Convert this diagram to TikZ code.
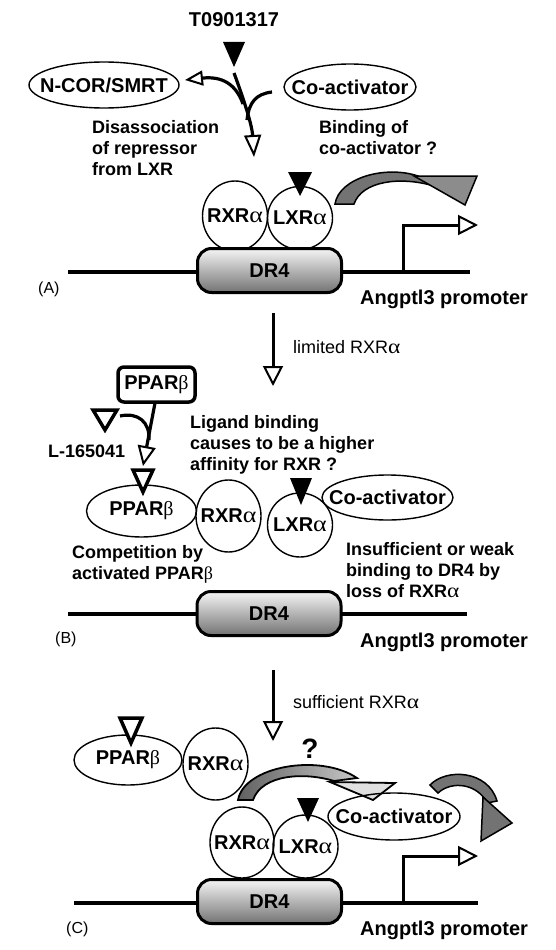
\documentclass[tikz,border=0pt]{standalone}
\usepackage{fontspec}
\usepackage{graphicx}
\setmainfont{Liberation Sans}
\newfontfamily\gkfont{Liberation Serif}
\usetikzlibrary{arrows.meta,shapes.geometric,shadings}
\newcommand\alp{{\gkfont\mdseries\scalebox{1.3}[1.12]{α}}}
\newcommand\bet{{\gkfont\mdseries β}}
\tikzset{
  lbl/.style={font=\fontsize{20}{22}\selectfont\bfseries},
  bead/.style={ellipse, draw, line width=1.4pt, inner sep=0pt, outer sep=0pt, lbl,
    execute at begin node={\hbox to 0pt\bgroup\hss}, execute at end node={\hss\egroup}},
  desc/.style={font=\fontsize{18}{21}\selectfont\bfseries, align=left, anchor=base west, inner sep=0pt},
  plainlbl/.style={font=\fontsize{18}{21}\selectfont, anchor=base west, inner sep=0pt},
  panel/.style={font=\fontsize{16}{18}\selectfont, anchor=base west, inner sep=0pt},
  prom/.style={font=\fontsize{20}{22}\selectfont\bfseries, anchor=base west, inner sep=0pt},
  drbox/.style={rectangle, rounded corners=14pt, draw, line width=3pt, minimum width=144pt, minimum height=44pt, top color=black!4, bottom color=black!55, lbl},
  dna/.style={line width=3.5pt},
  openlig/.style={draw, line width=3.5pt, line join=miter, fill=white},
  ribbon/.style={draw, line width=1.5pt, fill=black!55},
  thickarr/.style={line width=3.2pt},
  opentip/.style={-{Triangle[open, length=20pt, width=20pt, line width=2pt]}},
}
\begin{document}
\begin{tikzpicture}[x=1pt,y=-1pt]
\useasboundingbox (0,0) rectangle (556,950);
\fill[white] (0,0) rectangle (556,950);

% ================= Panel A =================
\node[font=\fontsize{20}{22}\selectfont\bfseries] (t09) at (234,20) {T0901317};
\fill (223,42) -- (245,42) -- (234,67) -- cycle;
\node[bead, minimum width=150pt, minimum height=46pt] (ncor) at (104,85) {N-COR/SMRT};
\node[bead, minimum width=132pt, minimum height=46pt] (coA) at (350,87) {Co-activator};
\coordinate (ligA) at (234,73);
\coordinate (tgtA) at (254,157);
\coordinate (splitA) at (243,104);
\coordinate (ncortip) at (185,80);
\coordinate (coAstart) at (272,92);
\draw[thickarr, -{Triangle[open,length=22pt,width=17pt,line width=2pt]}] (ligA) .. controls (244,100) and (252,125) .. (tgtA);
\draw[thickarr, -{Triangle[open,length=18pt,width=15pt,line width=2pt]}] (splitA) .. controls (236,84) and (222,76) .. (ncortip);
\draw[thickarr] (coAstart) .. controls (256,94) and (249,102) .. (247,120);

\node[desc] (disA) at (92,175) {Disassociation\\of repressor\\from LXR};
\node[desc] (bindA) at (319,154) {Binding of\\co-activator ?};

\draw[dna] (68,272) -- (470,272);
\coordinate (promA) at (403,272);
\draw[line width=3pt, opentip] (promA) -- (403,225) -- (478,225);
\node[bead, minimum width=65pt, minimum height=70pt] (rxrA) at (235,216) {RXR\alp};
\node[bead, minimum width=65pt, minimum height=63pt] (lxrA) at (300,218) {LXR\alp};
\fill (288,172) -- (312,172) -- (300,196) -- cycle;
\node[drbox] (drA) at (269.5,270.5) {DR4};
\filldraw[ribbon] (335,204) .. controls (339,178) and (385,165) .. (418,176) -- (434,186) .. controls (400,176) and (362,181) .. (354,204) -- cycle;
\filldraw[ribbon, fill=black!45] (414,176) -- (477,176) -- (465,205) -- cycle;
\node[panel] (labA) at (38,293) {(A)};
\node[prom] (angA) at (360,304) {Angptl3 promoter};

% transition A -> B
\coordinate (a1) at (273,313);
\coordinate (a2) at (273,386);
\draw[line width=3pt, opentip] (a1) -- (a2);
\node[plainlbl] (limA) at (293,353) {limited RXR\alp};

% ================= Panel B =================
\node[draw, line width=3.5pt, rounded corners=6pt, minimum width=77pt, minimum height=35pt, lbl, inner sep=0pt] (pbox) at (156.5,384.5) {PPAR\bet};
\draw[openlig] (93,410) -- (117,410) -- (105,430) -- cycle;
\node[desc] (lig) at (48,457) {L-165041};
\coordinate (pboxout) at (155,403);
\coordinate (pparTip) at (143,466);
\draw[thickarr, -{Triangle[open,length=20pt,width=18pt,line width=2pt]}] (pboxout) -- (pparTip);
\draw[thickarr] (120,416) .. controls (138,412) and (150,422) .. (149,440);

\node[desc] (ligand) at (190,470) {Ligand binding\\causes to be a higher\\affinity for RXR ?};

\node[bead, minimum width=110pt, minimum height=52pt] (pparB) at (141.5,511) {PPAR\bet};
\draw[openlig] (133,470) -- (153,470) -- (143,492) -- cycle;
\node[bead, minimum width=65pt, minimum height=72pt] (rxrB) at (228.5,516) {RXR\alp};
\node[bead, minimum width=65pt, minimum height=64pt] (lxrB) at (300,525) {LXR\alp};
\node[bead, minimum width=131pt, minimum height=45pt] (coB) at (387.5,497.5) {Co-activator};
\fill (290,478) -- (312,478) -- (301,505) -- cycle;

\node[desc] (compB) at (72,579) {Competition by\\activated PPAR\bet};
\node[desc] (insB) at (346,597) {Insufficient or weak\\binding to DR4 by\\loss of RXR\alp};

\draw[dna] (68,614) -- (467,614);
\node[drbox] (drB) at (269,613.5) {DR4};
\node[panel] (labB) at (55,643) {(B)};
\node[prom] (angB) at (360,647) {Angptl3 promoter};

% transition B -> C
\coordinate (b1) at (273,670);
\coordinate (b2) at (273,741);
\draw[line width=3pt, opentip] (b1) -- (b2);
\node[plainlbl] (sufB) at (293,708) {sufficient RXR\alp};

% ================= Panel C =================
\node[bead, minimum width=108pt, minimum height=50pt] (pparC) at (128,760) {PPAR\bet};
\draw[openlig] (120,718) -- (142,718) -- (131,743) -- cycle;
\node[bead, minimum width=65pt, minimum height=72pt] (rxrC) at (215.5,764) {RXR\alp};
\node[font=\fontsize{28}{30}\selectfont\bfseries] (q) at (310,749) {?};

\filldraw[draw, line width=1.8pt, left color=black!62, right color=black!22] (238,800) .. controls (244,766) and (320,753) .. (357,778) -- (334,781) .. controls (305,772) and (262,774) .. (253,800) -- cycle;
\filldraw[draw, line width=1.8pt, fill=black!12] (330,782) -- (395,783) -- (373,800) -- cycle;

\node[bead, minimum width=132pt, minimum height=47pt] (coC) at (394,816.5) {Co-activator};
\filldraw[ribbon] (430,785) .. controls (446,768) and (488,770) .. (497,801) -- (487,803) .. controls (478,784) and (452,780) .. (438,793) -- cycle;
\filldraw[ribbon] (483,797) -- (512,823) -- (481,841) -- cycle;

\draw[dna] (74,903) -- (478,903);
\coordinate (promC) at (403,903);
\draw[line width=3pt, opentip] (promC) -- (403,856) -- (478,856);
\node[bead, minimum width=64pt, minimum height=71pt] (rxrC2) at (242,842.5) {RXR\alp};
\node[bead, minimum width=65pt, minimum height=63pt] (lxrC2) at (305.5,846.5) {LXR\alp};
\fill (297,798) -- (319,798) -- (308,822) -- cycle;
\node[drbox] (drC) at (269.5,901.5) {DR4};
\node[panel] (labC) at (66,933) {(C)};
\node[prom] (angC) at (360,935) {Angptl3 promoter};
\end{tikzpicture}
\end{document}
